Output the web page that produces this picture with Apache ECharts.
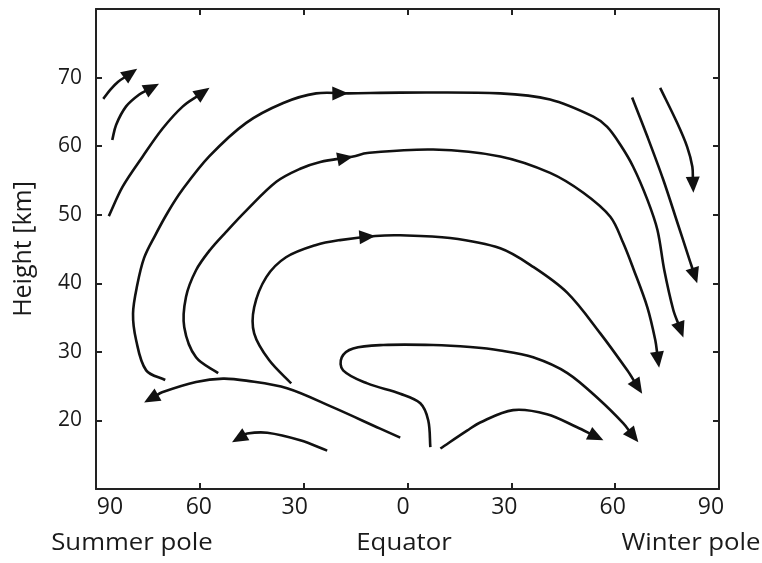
<!DOCTYPE html>
<html>
<head>
<meta charset="utf-8">
<script src="https://cdn.jsdelivr.net/npm/echarts@6/dist/echarts.min.js"></script>
<style>
  html, body { margin: 0; padding: 0; background: #fff; }
  #chart { width: 762px; height: 563px; }
</style>
</head>
<body>
<div id="chart"></div>
<script>
// Axis ticks: latitude from the summer pole (negative side) to the winter pole
const latTicks = [-90, -60, -30, 0, 30, 60, 90];
const heightTicks = [20, 30, 40, 50, 60, 70];

// Streamlines of the meridional circulation, [latitude, height km]
const polarShort = [[-87.9, 66.9], [-85.9, 68.2], [-83.6, 69.4], [-80.9, 70.3], [-78.1, 71.3]];
const polarMid = [[-85.3, 60.9], [-84.2, 63.1], [-81.3, 65.8], [-77.6, 67.5], [-71.8, 69.1]];
const polarLong = [[-86.3, 49.8], [-82.3, 54.1], [-76.5, 58.5], [-70.7, 62.6], [-64.9, 65.8], [-57.2, 68.5]];

const loopOuter = [[-70.0, 25.9], [-75.5, 27.3], [-78.4, 31.7], [-79.3, 35.6], [-78.1, 39.7], [-76.1, 43.7],
  [-72.9, 47.0], [-69.2, 50.4], [-65.1, 53.6], [-57.3, 58.5], [-46.6, 63.4], [-35.9, 66.3], [-26.4, 67.7],
  [-17.1, 67.7], [-2.1, 67.8], [26.8, 67.7], [41.2, 66.8], [53.7, 64.3], [57.7, 62.8], [61.5, 60.2],
  [65.2, 57.0], [69.3, 52.2], [72.2, 47.8], [74.2, 41.9], [76.8, 36.1], [79.7, 32.1]];
const loopUpper = [[-54.7, 26.9], [-61.1, 29.2], [-64.5, 33.6], [-64.0, 38.0], [-61.1, 41.9], [-57.0, 44.9],
  [-52.4, 47.5], [-46.6, 50.6], [-37.9, 54.8], [-31.0, 56.7], [-25.2, 57.7], [-15.7, 58.5], [-11.6, 59.0],
  [7.4, 59.5], [26.8, 58.5], [41.2, 56.1], [50.8, 53.2], [58.6, 49.7], [62.3, 45.9], [65.2, 42.2],
  [69.3, 36.5], [71.6, 31.7], [72.7, 27.7]];
const loopMiddle = [[-33.6, 25.4], [-40.0, 28.8], [-44.3, 32.7], [-44.3, 36.5], [-40.8, 40.9], [-35.1, 43.8],
  [-26.4, 45.6], [-19.5, 46.3], [-9.3, 46.9], [-2.1, 47.0], [12.3, 46.6], [26.8, 45.1], [36.3, 42.4],
  [46.2, 38.6], [55.7, 32.7], [63.5, 27.3], [67.8, 23.9]];
const loopLower = [[6.6, 16.1], [6.0, 20.0], [3.7, 22.5], [-2.1, 23.9], [-11.6, 25.4], [-18.6, 27.3],
  [-19.0, 29.2], [-15.7, 30.5], [-7.0, 31.0], [7.4, 31.0], [18.1, 30.7], [26.8, 30.2], [36.3, 29.2],
  [46.2, 26.9], [55.7, 22.9], [62.3, 19.6], [66.7, 16.8]];
const lowWinter = [[9.5, 15.9], [17.2, 18.5], [21.0, 19.7], [30.5, 21.5], [40.3, 20.9], [49.0, 19.0], [56.6, 17.1]];
const lowSummer = [[-2.1, 17.5], [-7.9, 18.8], [-21.5, 21.9], [-34.8, 24.7], [-46.6, 25.8], [-53.3, 26.1],
  [-61.1, 25.6], [-70.9, 24.1], [-76.1, 22.6]];
const lowShort = [[-23.2, 15.6], [-31.0, 17.1], [-40.5, 18.2], [-46.3, 18.1], [-50.7, 16.8]];
const winterInner = [[64.9, 67.1], [69.3, 61.4], [73.9, 55.1], [78.2, 48.5], [81.7, 43.1], [83.7, 40.0]];
const winterOuter = [[73.0, 68.5], [77.9, 63.4], [80.8, 59.9], [82.3, 57.0], [82.6, 53.2]];

// Which streamlines carry an arrow at their end, and at which vertex a mid-line arrow sits
const streamlines = [
  { pts: polarShort, end: true },
  { pts: polarMid, end: true },
  { pts: polarLong, end: true },
  { pts: loopOuter, end: true, mid: 13 },
  { pts: loopUpper, end: true, mid: 11 },
  { pts: loopMiddle, end: true, mid: 8 },
  { pts: loopLower, end: true },
  { pts: lowWinter, end: true },
  { pts: lowSummer, end: true },
  { pts: lowShort, end: true },
  { pts: winterInner, end: true },
  { pts: winterOuter, end: true }
];

const INK = '#111';
const TEXT = '#1a1a1a';
const FONT = 'Open Sans';
const ARROW_LEN = 16;
const ARROW_HALF = 7;

function unit(a, b) {
  const dx = b[0] - a[0], dy = b[1] - a[1];
  const l = Math.sqrt(dx * dx + dy * dy) || 1;
  return [dx / l, dy / l];
}

function dist(a, b) {
  return Math.hypot(b[0] - a[0], b[1] - a[1]);
}

// Smooth path through the pixel points: cubic segments whose handles follow
// the neighbour-to-neighbour direction, scaled by each segment's own length.
function smoothPath(p) {
  const n = p.length;
  const tan = p.map((q, i) => unit(p[Math.max(0, i - 1)], p[Math.min(n - 1, i + 1)]));
  let d = 'M' + p[0][0].toFixed(2) + ' ' + p[0][1].toFixed(2);
  for (let i = 0; i < n - 1; i++) {
    const L = dist(p[i], p[i + 1]) / 3;
    const c1 = [p[i][0] + tan[i][0] * L, p[i][1] + tan[i][1] * L];
    const c2 = [p[i + 1][0] - tan[i + 1][0] * L, p[i + 1][1] - tan[i + 1][1] * L];
    d += 'C' + c1[0].toFixed(2) + ' ' + c1[1].toFixed(2) + ' ' + c2[0].toFixed(2) + ' ' + c2[1].toFixed(2) +
      ' ' + p[i + 1][0].toFixed(2) + ' ' + p[i + 1][1].toFixed(2);
  }
  return d;
}

function arrowHead(tip, dir) {
  const bx = tip[0] - dir[0] * ARROW_LEN, by = tip[1] - dir[1] * ARROW_LEN;
  const nx = -dir[1], ny = dir[0];
  return {
    type: 'polygon',
    shape: { points: [tip, [bx + nx * ARROW_HALF, by + ny * ARROW_HALF], [bx - nx * ARROW_HALF, by - ny * ARROW_HALF]] },
    style: { fill: INK }
  };
}

function makeSeries(s) {
  return {
    type: 'custom',
    coordinateSystem: 'cartesian2d',
    silent: true,
    animation: false,
    data: [s.pts[0]],
    renderItem: function (params, api) {
      const px = s.pts.map(p => api.coord(p));
      const n = px.length;
      const children = [];
      const linePts = px.slice();
      if (s.end) {
        const tip = px[n - 1];
        const dir = unit(px[n - 2], tip);
        linePts[n - 1] = [tip[0] - dir[0] * (ARROW_LEN - 4), tip[1] - dir[1] * (ARROW_LEN - 4)];
        children.push(arrowHead(tip, dir));
      }
      children.unshift({
        type: 'path',
        shape: { pathData: smoothPath(linePts) },
        style: { stroke: INK, lineWidth: 2.6, fill: null, lineCap: 'butt', lineJoin: 'round' }
      });
      if (s.mid != null) {
        const k = s.mid;
        children.push(arrowHead(px[k], unit(px[k - 1], px[k + 1])));
      }
      return { type: 'group', children: children };
    }
  };
}

// Small per-label shifts so each latitude number sits where it is printed
const labelShift = { '-90': 28, '-60': -2, '-30': -18, '0': -9, '30': -14, '60': -5, '90': -16 };
const xRich = {};
latTicks.forEach((v, i) => {
  const s = labelShift[String(v)];
  xRich['t' + i] = {
    fontSize: 23, fontFamily: FONT, color: TEXT,
    padding: s >= 0 ? [0, 0, 0, s] : [0, -s, 0, 0]
  };
});

const axisLineStyle = { onZero: false, lineStyle: { color: '#222', width: 2 } };
const tickStyle = { show: true, inside: true, length: 6, lineStyle: { color: '#222', width: 2 } };

function poleText(x, text) {
  return {
    type: 'text', x: x, y: 543, scaleX: 1.12, originX: 0, originY: 0,
    style: { text: text, x: 0, y: 0, textAlign: 'center', textVerticalAlign: 'middle', font: '23px "' + FONT + '"', fill: TEXT }
  };
}

const chart = echarts.init(document.getElementById('chart'), null, { renderer: 'canvas' });
chart.setOption({
  backgroundColor: '#fff',
  animation: false,
  grid: { left: 96, right: 43, top: 9, bottom: 74 },
  xAxis: [
    {
      type: 'value', min: -90, max: 90, interval: 30, position: 'bottom',
      axisLine: axisLineStyle, axisTick: tickStyle, splitLine: { show: false },
      axisLabel: {
        margin: 7,
        formatter: function (v) {
          const i = latTicks.indexOf(v);
          return '{t' + i + '|' + Math.abs(v) + '}';
        },
        rich: xRich
      }
    },
    {
      type: 'value', min: -90, max: 90, interval: 30, position: 'top',
      axisLine: axisLineStyle, axisTick: tickStyle, splitLine: { show: false },
      axisLabel: { show: false }
    }
  ],
  yAxis: [
    {
      type: 'value', min: 10, max: 80, interval: 10, position: 'left',
      name: 'Height [km]', nameLocation: 'middle', nameGap: 60,
      nameTextStyle: { fontSize: 25, fontFamily: FONT, color: TEXT },
      axisLine: axisLineStyle, axisTick: tickStyle, splitLine: { show: false },
      axisLabel: {
        margin: 14, fontSize: 21, fontFamily: FONT, color: TEXT,
        formatter: function (v) { return heightTicks.indexOf(v) >= 0 ? String(v) : ''; }
      }
    },
    {
      type: 'value', min: 10, max: 80, interval: 10, position: 'right',
      axisLine: axisLineStyle, axisTick: tickStyle, splitLine: { show: false },
      axisLabel: { show: false }
    }
  ],
  graphic: [
    poleText(132, 'Summer pole'),
    poleText(404, 'Equator'),
    poleText(691, 'Winter pole')
  ],
  series: streamlines.map(makeSeries)
});
</script>
</body>
</html>
